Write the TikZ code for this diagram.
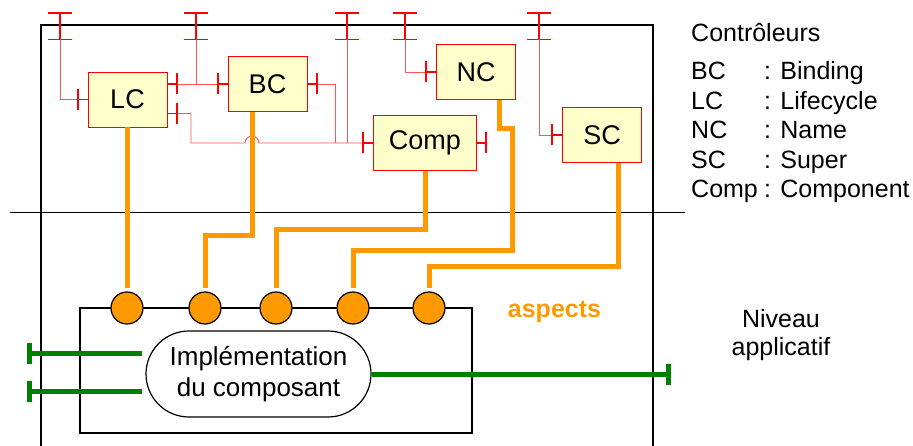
\documentclass[tikz,border=0pt]{standalone}
\usepackage{fontspec}
\setmainfont{Liberation Sans}
\usetikzlibrary{arrows.meta}
\definecolor{ctrlfill}{RGB}{255,255,204}
\definecolor{aspectorange}{RGB}{255,153,0}
\definecolor{wirered}{RGB}{255,85,85}
\definecolor{implgreen}{RGB}{0,128,0}

\begin{document}
\begin{tikzpicture}[x=1pt, y=-1pt,
    ctrl/.style={draw=red, line width=0.8pt, fill=ctrlfill, minimum width=79pt, minimum height=55pt, inner sep=0pt, font=\fontsize{27}{27}\selectfont},
    wire/.style={color=wirered, line width=0.9pt},
    itf/.style={color=red, line width=1.6pt, -{Bar[width=21pt]}},
    extitf/.style={color=red, line width=1.6pt, -{Bar[width=24pt]}},
    crossbar/.style={color=red, line width=1.6pt},
    aspect/.style={color=aspectorange, line width=5pt},
    port/.style={circle, draw=black, line width=1.2pt, fill=aspectorange, minimum size=32pt, inner sep=0pt},
    binding/.style={color=implgreen, line width=5pt, -{Bar[width=21pt]}},
    legend/.style={anchor=base west, inner sep=0pt, font=\fontsize{25}{25}\selectfont}]
    \useasboundingbox (0, 0) rectangle (913, 446);

    % frame and level separator
    \draw[line width=1.5pt] (41, 446) -- (41, 25) -- (653, 25) -- (653, 446);
    \draw[line width=1pt] (10, 213) -- (685, 213);

    % controllers
    \node (LC) [ctrl] at (127.5, 99.5) {LC};
    \node (BC) [ctrl] at (267.5, 84) {BC};
    \node (NC) [ctrl] at (476, 72) {NC};
    \node (Comp) [ctrl, minimum width=103pt] at (425, 143) {Comp};
    \node (SC) [ctrl] at (602, 135) {SC};

    % external control interfaces
    \coordinate (LCout) at (60, 12);
    \coordinate (LCin) at (60, 39.5);
    \coordinate (BCout) at (196, 12);
    \coordinate (BCin) at (196, 39.5);
    \coordinate (Compout) at (347, 12);
    \coordinate (Compin) at (347, 39.5);
    \coordinate (NCout) at (405, 12);
    \coordinate (NCin) at (405, 39.5);
    \coordinate (SCout) at (539, 12);
    \coordinate (SCin) at (539, 39.5);
    \draw[extitf] (LCin) -- (LCout);
    \draw[extitf] (BCin) -- (BCout);
    \draw[extitf] (Compin) -- (Compout);
    \draw[extitf] (NCin) -- (NCout);
    \draw[extitf] (SCin) -- (SCout);
    \draw[crossbar] ([xshift=-12pt]LCin) -- ([xshift=12pt]LCin);
    \draw[crossbar] ([xshift=-12pt]BCin) -- ([xshift=12pt]BCin);
    \draw[crossbar] ([xshift=-12pt]Compin) -- ([xshift=12pt]Compin);
    \draw[crossbar] ([xshift=-12pt]NCin) -- ([xshift=12pt]NCin);
    \draw[crossbar] ([xshift=-12pt]SCin) -- ([xshift=12pt]SCin);

    % interfaces on the controllers
    \coordinate (LCw) at (77, 99.5);
    \coordinate (LCe1) at (178, 84);
    \coordinate (LCe2) at (178, 113.5);
    \coordinate (BCw) at (217, 84);
    \coordinate (BCe) at (318, 84);
    \coordinate (NCw) at (425, 72);
    \coordinate (Compw) at (362, 143);
    \coordinate (Compe) at (487, 143);
    \coordinate (SCw) at (551, 135);
    \draw[itf] (LC.west) -- (LCw);
    \draw[itf] (LC.east |- LCe1) -- (LCe1);
    \draw[itf] (LC.east |- LCe2) -- (LCe2);
    \draw[itf] (BC.west) -- (BCw);
    \draw[itf] (BC.east) -- (BCe);
    \draw[itf] (NC.west) -- (NCw);
    \draw[itf] (Comp.west) -- (Compw);
    \draw[itf] (Comp.east) -- (Compe);
    \draw[itf] (SC.west) -- (SCw);

    % bindings between controllers
    \draw[wire] (LCin) |- (LCw);
    \draw[wire] (LCe1) -- (BCw);
    \draw[wire] (BCin) -- (BCin |- BCw);
    \draw[wire] (LCe2) -- (191, 113.5) -- (191, 143) -- (245, 143) arc[start angle=180, end angle=360, radius=7] -- (Compw);
    \draw[wire] (BCe) -| (335, 143);
    \draw[wire] (Compin) -- (Compin |- Compw);
    \draw[wire] (NCin) |- (NCw);
    \draw[wire] (SCin) |- (SCw);

    % content
    \draw[line width=1.2pt] (80, 308) rectangle (472, 433);
    \node (impl) [draw, line width=1.2pt, rounded corners=43pt, minimum width=225pt, minimum height=86pt, inner sep=0pt, align=center, font=\fontsize{26}{31}\selectfont] at (258.5, 374) {Implémentation\\du composant};
    \coordinate (implL1) at (142, 353.5);
    \coordinate (implL2) at (142, 391);
    \coordinate (srv1) at (27, 353.5);
    \coordinate (srv2) at (27, 391);
    \coordinate (clt) at (671, 374);
    \draw[binding] (implL1) -- (srv1);
    \draw[binding] (implL2) -- (srv2);
    \draw[binding] (impl.east) -- (clt);

    % aspects
    \node (A1) [port] at (127, 308) {};
    \node (A2) [port] at (205, 308) {};
    \node (A3) [port] at (276, 308) {};
    \node (A4) [port] at (353, 308) {};
    \node (A5) [port] at (429, 308) {};
    \draw[aspect] (LC.south -| A1) -- ([yshift=3pt]A1.north);
    \draw[aspect] ([xshift=-15.5pt]BC.south) -- ++(0, 124) -| ([yshift=3pt]A2.north);
    \draw[aspect] (Comp.south) -- ++(0, 59) -| ([yshift=3pt]A3.north);
    \draw[aspect] ([xshift=23pt]NC.south) -- ++(0, 29) -- ++(13, 0) -- ++(0, 122) -| ([yshift=3pt]A4.north);
    \draw[aspect] ([xshift=16pt]SC.south) -- ++(0, 104) -| ([yshift=3pt]A5.north);
    \node (aspects) [anchor=base, inner sep=0pt, text=aspectorange, font=\fontsize{25}{25}\selectfont\bfseries] at (554.5, 318) {aspects};

    % legend
    \node (title) [legend] at (691, 41.5) {Contrôleurs};
    \node (BCkey) [legend] at (691, 80) {BC};
    \node (BCdef) [legend] at (764, 80) {: Binding};
    \node (LCkey) [legend] at (691, 109.5) {LC};
    \node (LCdef) [legend] at (764, 109.5) {: Lifecycle};
    \node (NCkey) [legend] at (691, 139) {NC};
    \node (NCdef) [legend] at (764, 139) {: Name};
    \node (SCkey) [legend] at (691, 168.5) {SC};
    \node (SCdef) [legend] at (764, 168.5) {: Super};
    \node (Compkey) [legend] at (691, 198) {Comp};
    \node (Compdef) [legend] at (764, 198) {: Component};
    \node (level) [align=center, inner sep=0pt, font=\fontsize{25}{28}\selectfont] at (781, 335) {Niveau\\applicatif};
\end{tikzpicture}
\end{document}
